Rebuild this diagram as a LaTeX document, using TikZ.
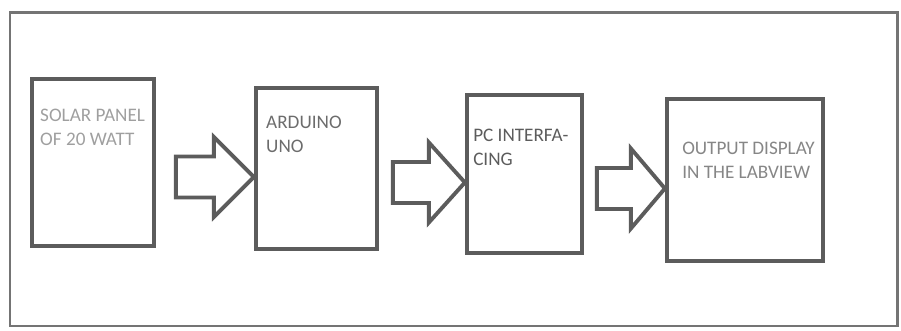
\documentclass[tikz,border=0pt]{standalone}
\usepackage{fontspec}
\setmainfont{Carlito}
\usetikzlibrary{
positioning,
calc
}
\definecolor{linegray}{RGB}{92,92,92}
\tikzset{
frame/.style={
draw=linegray!85,
line width=1.7pt
},
box/.style={
draw=linegray,
line width=2.4pt,
inner sep=0pt
},
txt/.style={
inner sep=0pt,
align=left,
anchor=north west,
font=\fontsize{10.9}{13.8}\selectfont
},
blockarrow/.style={
draw=linegray,
line width=2.2pt,
line join=miter
}
}

\begin{document}
\begin{tikzpicture}
\useasboundingbox (0,0) rectangle (18.02,6.62);
\draw[frame] (0.2,0.1) rectangle (17.94,6.36);

\node[box, minimum width=2.44cm, minimum height=3.34cm] (solar) at (1.86,3.37) {};
\node[box, minimum width=2.42cm, minimum height=3.22cm] (ard) at (6.33,3.25) {};
\node[box, minimum width=2.30cm, minimum height=3.16cm] (pc) at (10.49,3.14) {};
\node[box, minimum width=3.12cm, minimum height=3.24cm] (out) at (14.90,3.02) {};

\node[txt, text=gray!75, below right=0.64cm and 0.2cm of solar.north west] (solartxt) {SOLAR PANEL\\OF 20 WATT};
\node[txt, text=linegray!90, below right=0.60cm and 0.24cm of ard.north west] (ardtxt) {ARDUINO\\UNO};
\node[txt, text=linegray, below right=0.72cm and 0.16cm of pc.north west] (pctxt) {PC INTERFA-\\CING};
\node[txt, text=gray!95, below right=0.90cm and 0.34cm of out.north west] (outtxt) {OUTPUT DISPLAY\\IN THE LABVIEW};

% block arrows, tip on the next box
\draw[blockarrow] ($(ard.west)+(0,-0.17)$) -- ++(-0.8,0.8) -- ++(0,-0.39) -- ++(-0.76,0)
  -- ++(0,-0.82) -- ++(0.76,0) -- ++(0,-0.39) -- cycle;
\draw[blockarrow] ($(pc.west)+(0,-0.17)$) -- ++(-0.72,0.8) -- ++(0,-0.39) -- ++(-0.72,0)
  -- ++(0,-0.82) -- ++(0.72,0) -- ++(0,-0.39) -- cycle;
\draw[blockarrow] ($(out.west)+(0,-0.17)$) -- ++(-0.68,0.8) -- ++(0,-0.39) -- ++(-0.68,0)
  -- ++(0,-0.82) -- ++(0.68,0) -- ++(0,-0.39) -- cycle;
\end{tikzpicture}
\end{document}
